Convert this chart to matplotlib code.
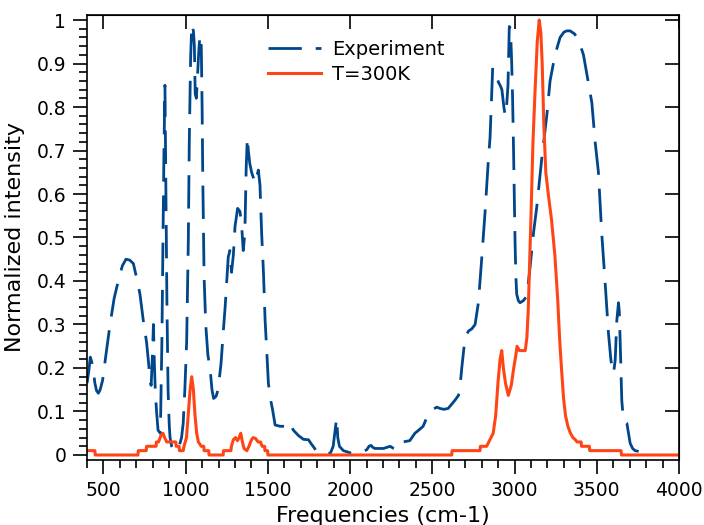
import matplotlib
matplotlib.use("Agg")
import matplotlib.pyplot as plt
from matplotlib.ticker import MultipleLocator, FuncFormatter

# Experimental spectrum (frequency in cm-1, normalized intensity)
exp_freq = [400, 410, 420, 428, 437, 448, 458, 469, 480, 495, 515, 540, 565, 590, 615, 637, 660, 682,
            700, 722, 742, 762, 775, 783, 790, 797, 804, 809, 815, 823, 832, 846, 855, 862, 868, 874,
            880, 886, 893, 900, 905, 915, 930, 945, 960, 975, 985, 995, 1006, 1016, 1022, 1030, 1037,
            1047, 1053, 1058, 1065, 1072, 1080, 1087, 1095, 1100, 1104, 1112, 1122, 1135, 1148, 1160,
            1170, 1185, 1197, 1215, 1228, 1240, 1250, 1259, 1269, 1279, 1290, 1300, 1316, 1330, 1340,
            1350, 1360, 1368, 1375, 1381, 1390, 1401, 1422, 1442, 1452, 1462, 1473, 1483, 1493, 1503,
            1515, 1529, 1544, 1574, 1605, 1625, 1640, 1655, 1685, 1716, 1747, 1765, 1777, 1797, 1838,
            1880, 1897, 1910, 1918, 1925, 1935, 1959, 2000, 2040, 2080, 2101, 2115, 2127, 2140, 2152,
            2203, 2243, 2265, 2283, 2303, 2322, 2363, 2394, 2420, 2444, 2465, 2486, 2505, 2527, 2547,
            2570, 2596, 2620, 2638, 2659, 2669, 2679, 2699, 2720, 2740, 2760, 2780, 2800, 2821, 2841,
            2851, 2860, 2867, 2880, 2892, 2902, 2912, 2923, 2935, 2943, 2953, 2960, 2968, 2975, 2982,
            2988, 2993, 3003, 3008, 3013, 3023, 3033, 3054, 3074, 3094, 3115, 3135, 3165, 3196, 3216,
            3246, 3277, 3300, 3317, 3338, 3365, 3388, 3419, 3449, 3470, 3490, 3510, 3530, 3551, 3571,
            3586, 3596, 3602, 3612, 3622, 3632, 3637, 3642, 3652, 3662, 3683, 3693, 3703, 3718, 3733,
            3773]
exp_int = [0.165, 0.19, 0.225, 0.215, 0.20, 0.165, 0.148, 0.142, 0.15, 0.172, 0.23, 0.30, 0.36, 0.40,
           0.435, 0.45, 0.448, 0.44, 0.41, 0.37, 0.31, 0.26, 0.21, 0.172, 0.16, 0.22, 0.30, 0.22, 0.15,
           0.10, 0.057, 0.05, 0.25, 0.50, 0.70, 0.85, 0.60, 0.35, 0.15, 0.07, 0.04, 0.02, 0.01, 0.01,
           0.02, 0.04, 0.073, 0.15, 0.26, 0.49, 0.72, 0.91, 0.99, 0.975, 0.94, 0.83, 0.82, 0.87, 0.93,
           0.965, 0.94, 0.80, 0.64, 0.41, 0.30, 0.23, 0.20, 0.15, 0.13, 0.135, 0.15, 0.21, 0.28, 0.34,
           0.40, 0.455, 0.47, 0.42, 0.46, 0.525, 0.567, 0.56, 0.53, 0.47, 0.51, 0.66, 0.73, 0.70, 0.67,
           0.65, 0.625, 0.655, 0.62, 0.51, 0.42, 0.31, 0.24, 0.165, 0.13, 0.103, 0.069, 0.066, 0.066,
           0.076, 0.068, 0.057, 0.045, 0.036, 0.035, 0.025, 0.019, 0.008, 0.004, 0.004, 0.02, 0.06,
           0.085, 0.04, 0.02, 0.01, 0.005, 0.005, 0.008, 0.012, 0.02, 0.022, 0.017, 0.015, 0.015, 0.02,
           0.015, 0.012, 0.02, 0.03, 0.033, 0.05, 0.058, 0.066, 0.085, 0.10, 0.105, 0.11, 0.107, 0.105,
           0.107, 0.118, 0.126, 0.137, 0.16, 0.20, 0.27, 0.285, 0.29, 0.30, 0.35, 0.45, 0.56, 0.68,
           0.73, 0.82, 0.89, 0.875, 0.87, 0.857, 0.85, 0.84, 0.80, 0.78, 0.81, 0.85, 0.985, 0.98, 0.91,
           0.82, 0.72, 0.49, 0.41, 0.37, 0.355, 0.35, 0.355, 0.365, 0.43, 0.51, 0.57, 0.68, 0.78, 0.86,
           0.92, 0.96, 0.972, 0.975, 0.975, 0.968, 0.955, 0.92, 0.855, 0.81, 0.72, 0.65, 0.51, 0.395,
           0.28, 0.218, 0.195, 0.188, 0.218, 0.31, 0.35, 0.33, 0.265, 0.126, 0.08, 0.073, 0.05, 0.027,
           0.015, 0.01, 0.007]

# Computed spectrum at T=300K
calc_freq = [400, 448, 450, 710, 712, 760, 762, 820, 822, 835, 850, 862, 872, 885, 940, 942, 960, 962,
             985, 990, 1005, 1015, 1027, 1037, 1047, 1057, 1067, 1077, 1095, 1110, 1112, 1140, 1142,
             1228, 1230, 1275, 1278, 1290, 1303, 1315, 1325, 1335, 1345, 1355, 1372, 1385, 1400, 1410,
             1425, 1440, 1455, 1465, 1480, 1482, 1498, 1500, 2618, 2620, 2790, 2792, 2830, 2850, 2870,
             2885, 2900, 2912, 2922, 2932, 2945, 2962, 2980, 2995, 3008, 3015, 3030, 3065, 3075, 3083,
             3090, 3100, 3112, 3125, 3138, 3150, 3160, 3168, 3178, 3190, 3205, 3225, 3245, 3262, 3275,
             3287, 3298, 3310, 3325, 3340, 3355, 3370, 3380, 3405, 3407, 3455, 3457, 3648, 3650, 4000]
calc_int = [0.01, 0.01, 0.0, 0.0, 0.01, 0.01, 0.02, 0.02, 0.03, 0.03, 0.045, 0.05, 0.04, 0.03, 0.03,
            0.02, 0.02, 0.01, 0.01, 0.02, 0.04, 0.09, 0.15, 0.18, 0.15, 0.09, 0.05, 0.03, 0.02, 0.02,
            0.01, 0.01, 0.0, 0.0, 0.01, 0.01, 0.02, 0.035, 0.04, 0.033, 0.04, 0.05, 0.03, 0.015, 0.01,
            0.02, 0.035, 0.04, 0.038, 0.03, 0.03, 0.02, 0.02, 0.01, 0.01, 0.0, 0.0, 0.01, 0.01, 0.02,
            0.02, 0.035, 0.05, 0.09, 0.17, 0.22, 0.24, 0.20, 0.165, 0.137, 0.16, 0.20, 0.23, 0.25, 0.24,
            0.24, 0.27, 0.33, 0.42, 0.55, 0.72, 0.84, 0.95, 1.0, 0.97, 0.90, 0.76, 0.65, 0.60, 0.54,
            0.46, 0.36, 0.26, 0.19, 0.13, 0.09, 0.065, 0.05, 0.04, 0.035, 0.03, 0.03, 0.02, 0.02, 0.01,
            0.01, 0.0, 0.0]

x_ticks = [500, 1000, 1500, 2000, 2500, 3000, 3500, 4000]

fig = plt.figure(figsize=(7.04, 5.25), dpi=100)
ax = fig.add_axes([87 / 704, 1 - 460 / 525, 592 / 704, 445 / 525])

ax.plot(exp_freq, exp_int, color="#00468b", lw=2.0, linestyle=(0, (12, 5)),
        label="Experiment")
ax.plot(calc_freq, calc_int, color="#ff4515", lw=2.2, label="T=300K")

ax.set_xlim(400, 4000)
ax.set_ylim(-0.0115, 1.0115)
ax.set_xticks(x_ticks)
ax.xaxis.set_minor_locator(MultipleLocator(100))
ax.yaxis.set_major_locator(MultipleLocator(0.1))
ax.yaxis.set_minor_locator(MultipleLocator(0.02))
ax.yaxis.set_major_formatter(FuncFormatter(lambda v, p: "%g" % round(v, 2)))

ax.tick_params(which="major", direction="out", length=10, width=1.2, labelsize=13.5, pad=5)
ax.tick_params(which="minor", direction="out", length=6, width=1.2)
for s in ax.spines.values():
    s.set_linewidth(1.2)

top = ax.secondary_xaxis("top")
top.set_xticks(x_ticks)
top.tick_params(direction="in", length=10, width=1.2, labeltop=False)
top.xaxis.set_minor_locator(plt.NullLocator())
right = ax.secondary_yaxis("right")
right.yaxis.set_major_locator(MultipleLocator(0.1))
right.yaxis.set_minor_locator(plt.NullLocator())
right.tick_params(direction="in", length=10, width=1.2, labelright=False)

ax.set_xlabel("Frequencies (cm-1)", fontsize=16, labelpad=4.5)
ax.set_ylabel("Normalized intensity", fontsize=16, labelpad=8)

ax.legend(loc="upper left", bbox_to_anchor=(268 / 704, 1 - 40 / 525),
          bbox_transform=fig.transFigure, frameon=False, fontsize=14,
          handlelength=2.7, borderpad=0, borderaxespad=0, labelspacing=0.3,
          handletextpad=0.6)

fig.savefig("out.png", dpi=100)
